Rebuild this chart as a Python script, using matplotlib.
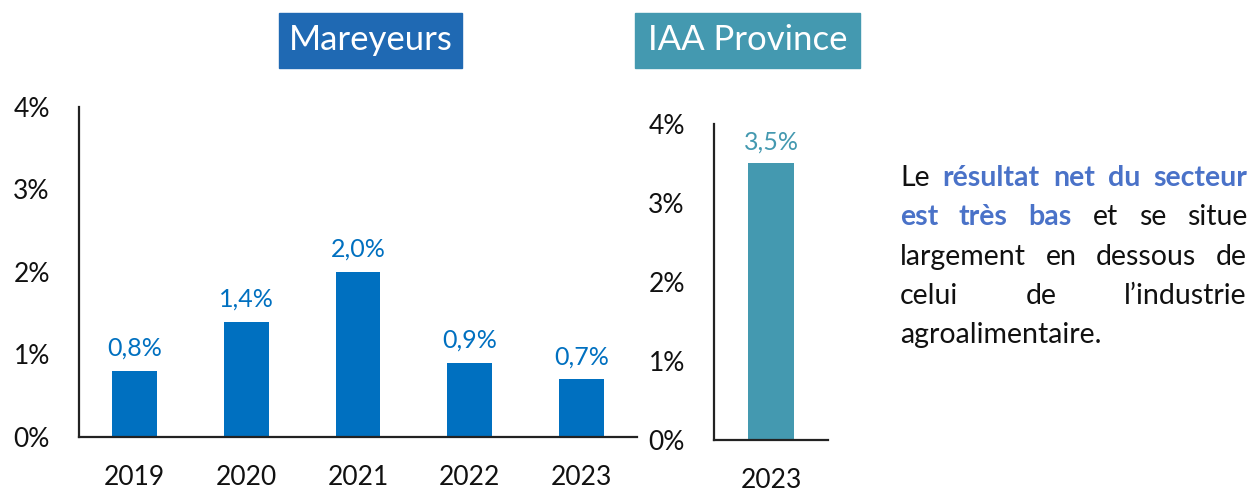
import matplotlib
matplotlib.use("Agg")
import matplotlib.pyplot as plt
from matplotlib.patches import Rectangle

plt.rcParams['font.family'] = ['Lato', 'DejaVu Sans']

# ---- data ----
years_mareyeurs = ["2019", "2020", "2021", "2022", "2023"]
values_mareyeurs = [0.8, 1.4, 2.0, 0.9, 0.7]
years_iaa = ["2023"]
values_iaa = [3.5]
y_ticks = [0, 1, 2, 3, 4]
y_tick_labels = ["0%", "1%", "2%", "3%", "4%"]
title_left = "Mareyeurs"
title_right = "IAA Province"

blue = "#0070c0"
teal = "#4499b0"
box_blue = "#1f69b3"
highlight = "#4a72c8"

W, H = 1250, 492
fig = plt.figure(figsize=(12.5, 4.92), dpi=100)

def fmt(v):
    return f"{v:.1f}".replace(".", ",") + "%"

def style_axes(ax):
    for s in ["top", "right"]:
        ax.spines[s].set_visible(False)
    for s in ["left", "bottom"]:
        ax.spines[s].set_linewidth(1.6)
        ax.spines[s].set_color("#222222")
    ax.set_ylim(0, 4)
    ax.set_yticks(y_ticks)
    ax.set_yticklabels(y_tick_labels)
    ax.tick_params(axis="both", length=0, labelsize=19, colors="#111111")
    ax.tick_params(axis="y", pad=21)
    ax.tick_params(axis="x", pad=20)

# left axes
ax1 = fig.add_axes([79 / W, 1 - 437 / H, (637 - 79) / W, (437 - 107) / H])
x1 = list(range(len(years_mareyeurs)))
ax1.bar(x1, values_mareyeurs, width=0.4, color=blue)
ax1.set_xlim(-0.5, len(years_mareyeurs) - 0.5)
ax1.set_xticks(x1)
ax1.set_xticklabels(years_mareyeurs)
style_axes(ax1)
for xi, v in zip(x1, values_mareyeurs):
    ax1.annotate(fmt(v), (xi, v), xytext=(0, 8), textcoords="offset points",
                 ha="center", va="bottom", fontsize=18, color=blue)

# right axes
ax2 = fig.add_axes([714 / W, 1 - 440 / H, (828 - 714) / W, (440 - 124) / H])
x2 = list(range(len(years_iaa)))
ax2.bar(x2, values_iaa, width=0.4, color=teal)
ax2.set_xlim(-0.5, 0.5)
ax2.set_xticks(x2)
ax2.set_xticklabels(years_iaa)
style_axes(ax2)
for xi, v in zip(x2, values_iaa):
    ax2.annotate(fmt(v), (xi, v), xytext=(0, 7), textcoords="offset points",
                 ha="center", va="bottom", fontsize=18, color=teal)

# title boxes
def title_box(x0, x1p, y0, y1, color, text):
    fig.patches.append(Rectangle((x0 / W, 1 - y1 / H), (x1p - x0) / W, (y1 - y0) / H,
                                 transform=fig.transFigure, color=color, zorder=0))
    fig.text((x0 + x1p) / 2 / W, 1 - (y0 + y1) / 2 / H, text, ha="center", va="center",
             color="white", fontsize=25)

title_box(279, 462, 13, 68, box_blue, title_left)
title_box(635, 860, 13, 68, teal, title_right)

# justified paragraph
lines = [
    [("Le", False), ("résultat", True), ("net", True), ("du", True), ("secteur", True)],
    [("est", True), ("très", True), ("bas", True), ("et", False), ("se", False), ("situe", False)],
    [("largement", False), ("en", False), ("dessous", False), ("de", False)],
    [("celui", False), ("de", False), ("l’industrie", False)],
    [("agroalimentaire.", False)],
]
baselines = [186, 225, 265, 304, 343]
left_px, right_px = 900, 1247
fig.canvas.draw()
renderer = fig.canvas.get_renderer()
for li, (words, base) in enumerate(zip(lines, baselines)):
    texts = []
    widths = []
    for w, bold in words:
        t = fig.text(0, 1 - base / H, w, fontsize=20.5, va="baseline", ha="left",
                     fontweight="bold" if bold else "normal",
                     color=highlight if bold else "#111111")
        texts.append(t)
        widths.append(t.get_window_extent(renderer).width)
    last = li == len(lines) - 1
    if len(words) > 1 and not last:
        gap = (right_px - left_px - sum(widths)) / (len(words) - 1)
    else:
        gap = 0
    x = left_px
    for t, wd in zip(texts, widths):
        t.set_x(x / W)
        x += wd + gap

fig.savefig("out.png", dpi=100)
